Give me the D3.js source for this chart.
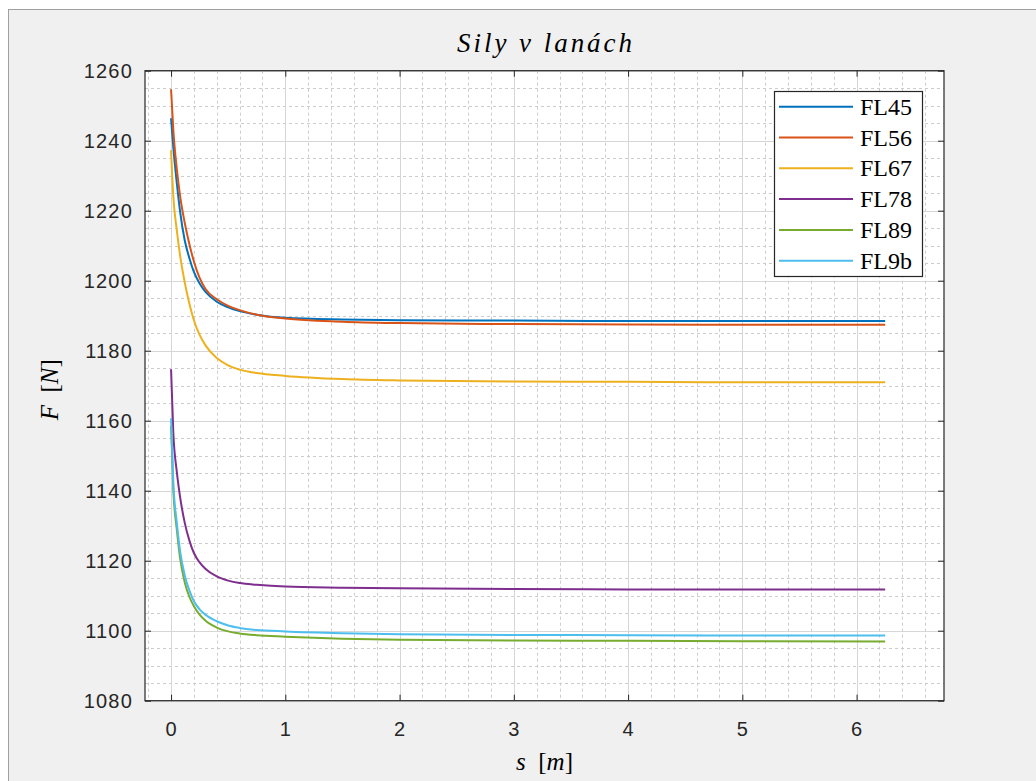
<!DOCTYPE html>
<html>
<head>
<meta charset="utf-8">
<script src="https://cdn.jsdelivr.net/npm/d3@7"></script>
<style>
  html, body { margin: 0; padding: 0; background: #ffffff; }
  svg { display: block; }
</style>
</head>
<body>
<svg id="fig" width="1036" height="781"></svg>
<script>
// Cable forces along the path
const sValues = [0, 0.02, 0.05, 0.08, 0.12, 0.16, 0.2, 0.25, 0.3, 0.4, 0.5, 0.6, 0.75, 1.0, 1.5, 2, 3, 4, 5, 6.25];

const FL45 = [1246.4, 1238, 1228, 1219.5, 1211.5, 1206.5, 1202.5, 1199.2, 1196.9, 1194.0, 1192.4, 1191.3, 1190.3, 1189.4, 1188.9, 1188.7, 1188.6, 1188.5, 1188.5, 1188.5];
const FL56 = [1254.7, 1243, 1232, 1224, 1216.5, 1210.5, 1205.5, 1200.8, 1197.7, 1194.7, 1192.8, 1191.6, 1190.3, 1189.2, 1188.3, 1187.9, 1187.6, 1187.5, 1187.4, 1187.4];
const FL67 = [1237.3, 1224, 1214.5, 1207, 1199.5, 1193.5, 1188.7, 1184.5, 1181.6, 1177.9, 1175.8, 1174.6, 1173.6, 1172.8, 1171.9, 1171.5, 1171.2, 1171.1, 1171.0, 1171.0];
const FL78 = [1174.7, 1156.4, 1145.5, 1138, 1130.8, 1125.8, 1122.2, 1119.5, 1117.7, 1115.5, 1114.3, 1113.6, 1113.1, 1112.6, 1112.3, 1112.1, 1111.9, 1111.8, 1111.8, 1111.8];
const FL89 = [1158.5, 1140, 1129, 1120.5, 1113.8, 1109.7, 1107, 1104.6, 1102.9, 1100.9, 1099.8, 1099.2, 1098.7, 1098.3, 1097.7, 1097.4, 1097.2, 1097.1, 1097.0, 1096.9];
const FL9b = [1160.7, 1142.1, 1131, 1122.5, 1115.8, 1111.5, 1108.4, 1106.1, 1104.6, 1102.7, 1101.5, 1100.8, 1100.2, 1099.8, 1099.3, 1099.0, 1098.8, 1098.7, 1098.6, 1098.6];

const seriesNames = ["FL45", "FL56", "FL67", "FL78", "FL89", "FL9b"];
const seriesValues = [FL45, FL56, FL67, FL78, FL89, FL9b];
const seriesColors = ["#0072BD", "#D95319", "#EDB120", "#7E2F8E", "#77AC30", "#4DBEEE"];

const xTicks = [0, 1, 2, 3, 4, 5, 6];
const yTicks = [1080, 1100, 1120, 1140, 1160, 1180, 1200, 1220, 1240, 1260];

const svg = d3.select("#fig");

// figure window
svg.append("rect")
  .attr("x", 8.5).attr("y", 9.5)
  .attr("width", 1040).attr("height", 790)
  .attr("fill", "#f0f0f0")
  .attr("stroke", "#a0a0a0").attr("stroke-width", 1);

const box = { left: 145, right: 944, top: 70.7, bottom: 700.7 };

const x = d3.scaleLinear().domain([-0.228, 6.765]).range([box.left, box.right]);
const y = d3.scaleLinear().domain([1080, 1260]).range([box.bottom, box.top]);

const W = box.right - box.left, H = box.bottom - box.top;

// plot area background
svg.append("rect")
  .attr("x", box.left).attr("y", box.top)
  .attr("width", W).attr("height", H)
  .attr("fill", "#ffffff");

const grid = svg.append("g");

// minor grid
const xMinor = d3.range(-0.2, 6.7, 0.2).map(v => +v.toFixed(1)).filter(v => Math.abs(v - Math.round(v)) > 1e-6);
const yMinor = d3.range(1080, 1261, 5).filter(v => v % 20 !== 0);

grid.selectAll(".xminor").data(xMinor).join("line")
  .attr("x1", d => Math.round(x(d)) + 0.5).attr("x2", d => Math.round(x(d)) + 0.5)
  .attr("y1", box.top).attr("y2", box.bottom)
  .attr("stroke", "#cccccc").attr("stroke-width", 1).attr("stroke-dasharray", "3,3");
grid.selectAll(".yminor").data(yMinor).join("line")
  .attr("y1", d => Math.round(y(d)) + 0.5).attr("y2", d => Math.round(y(d)) + 0.5)
  .attr("x1", box.left).attr("x2", box.right)
  .attr("stroke", "#cccccc").attr("stroke-width", 1).attr("stroke-dasharray", "3,3");

// major grid
grid.selectAll(".xmajor").data(xTicks).join("line")
  .attr("x1", d => Math.round(x(d)) + 0.5).attr("x2", d => Math.round(x(d)) + 0.5)
  .attr("y1", box.top).attr("y2", box.bottom)
  .attr("stroke", "#d6d6d6").attr("stroke-width", 1);
grid.selectAll(".ymajor").data(yTicks).join("line")
  .attr("y1", d => Math.round(y(d)) + 0.5).attr("y2", d => Math.round(y(d)) + 0.5)
  .attr("x1", box.left).attr("x2", box.right)
  .attr("stroke", "#d6d6d6").attr("stroke-width", 1);

// curves
const line = d3.line()
  .x((d, i) => x(sValues[i]))
  .y(d => y(d))
  .curve(d3.curveMonotoneX);

svg.append("g").selectAll("path").data(seriesValues).join("path")
  .attr("d", d => line(d))
  .attr("fill", "none")
  .attr("stroke", (d, i) => seriesColors[i])
  .attr("stroke-width", 2);

// axes (ticks pointing inward, box on)
const axisColor = "#262626";
const tickFont = "'Liberation Sans', Arial, sans-serif";

const gx = svg.append("g").attr("transform", `translate(0,${box.bottom})`)
  .call(d3.axisBottom(x).tickValues(xTicks).tickSizeInner(-6).tickSizeOuter(0).tickPadding(21).tickFormat(d3.format("d")));
const gy = svg.append("g").attr("transform", `translate(${box.left},0)`)
  .call(d3.axisLeft(y).tickValues(yTicks).tickSizeInner(-6).tickSizeOuter(0).tickPadding(12).tickFormat(d3.format("d")));
const gt = svg.append("g").attr("transform", `translate(0,${box.top})`)
  .call(d3.axisTop(x).tickValues(xTicks).tickSizeInner(-6).tickSizeOuter(0).tickFormat(""));
const gr = svg.append("g").attr("transform", `translate(${box.right},0)`)
  .call(d3.axisRight(y).tickValues(yTicks).tickSizeInner(-6).tickSizeOuter(0).tickFormat(""));

[gx, gy, gt, gr].forEach(g => {
  g.select(".domain").remove();
  g.selectAll("line").attr("stroke", axisColor).attr("stroke-width", 1);
  g.selectAll("text").attr("fill", axisColor)
    .style("font-family", tickFont).style("font-size", "20px").style("letter-spacing", "1.2px");
});
gx.selectAll("text").attr("dy", "0.71em");

svg.append("rect")
  .attr("x", box.left).attr("y", box.top)
  .attr("width", W).attr("height", H)
  .attr("fill", "none").attr("stroke", axisColor).attr("stroke-width", 1.2);

// title and labels
const serif = "'Liberation Serif', 'Times New Roman', serif";
svg.append("text")
  .attr("x", (box.left + box.right) / 2).attr("y", 52)
  .attr("text-anchor", "middle")
  .attr("textLength", 175).attr("lengthAdjust", "spacing")
  .style("font-family", serif).style("font-style", "italic").style("font-size", "27px")
  .attr("fill", "#000")
  .text("Sily v lanách");

const xl = svg.append("text")
  .attr("x", (box.left + box.right) / 2).attr("y", 770)
  .attr("text-anchor", "middle")
  .style("font-family", serif).style("font-size", "25px").attr("fill", "#000");
xl.append("tspan").style("font-style", "italic").text("s");
xl.append("tspan").text("\u2002[");
xl.append("tspan").style("font-style", "italic").text("m");
xl.append("tspan").text("]");

const yl = svg.append("text")
  .attr("transform", `translate(58,${(box.top + box.bottom) / 2 + 4}) rotate(-90)`)
  .attr("text-anchor", "middle")
  .style("font-family", serif).style("font-size", "25px").attr("fill", "#000");
yl.append("tspan").style("font-style", "italic").text("F");
yl.append("tspan").text("\u2002[");
yl.append("tspan").style("font-style", "italic").text("N");
yl.append("tspan").text("]");

// legend
const leg = { x: 774.5, y: 91.5, w: 148, h: 185, row0: 106.7, step: 30.8 };
const lg = svg.append("g");
lg.append("rect")
  .attr("x", leg.x).attr("y", leg.y).attr("width", leg.w).attr("height", leg.h)
  .attr("fill", "#ffffff").attr("stroke", axisColor).attr("stroke-width", 1.2);
const rows = lg.selectAll("g.row").data(seriesNames).join("g")
  .attr("transform", (d, i) => `translate(0,${leg.row0 + i * leg.step})`);
rows.append("line")
  .attr("x1", 779).attr("x2", 853).attr("y1", 0).attr("y2", 0)
  .attr("stroke", (d, i) => seriesColors[i]).attr("stroke-width", 2);
rows.append("text")
  .attr("x", 860).attr("y", 8)
  .style("font-family", serif).style("font-size", "24px").attr("fill", "#000")
  .text(d => d);
</script>
</body>
</html>
